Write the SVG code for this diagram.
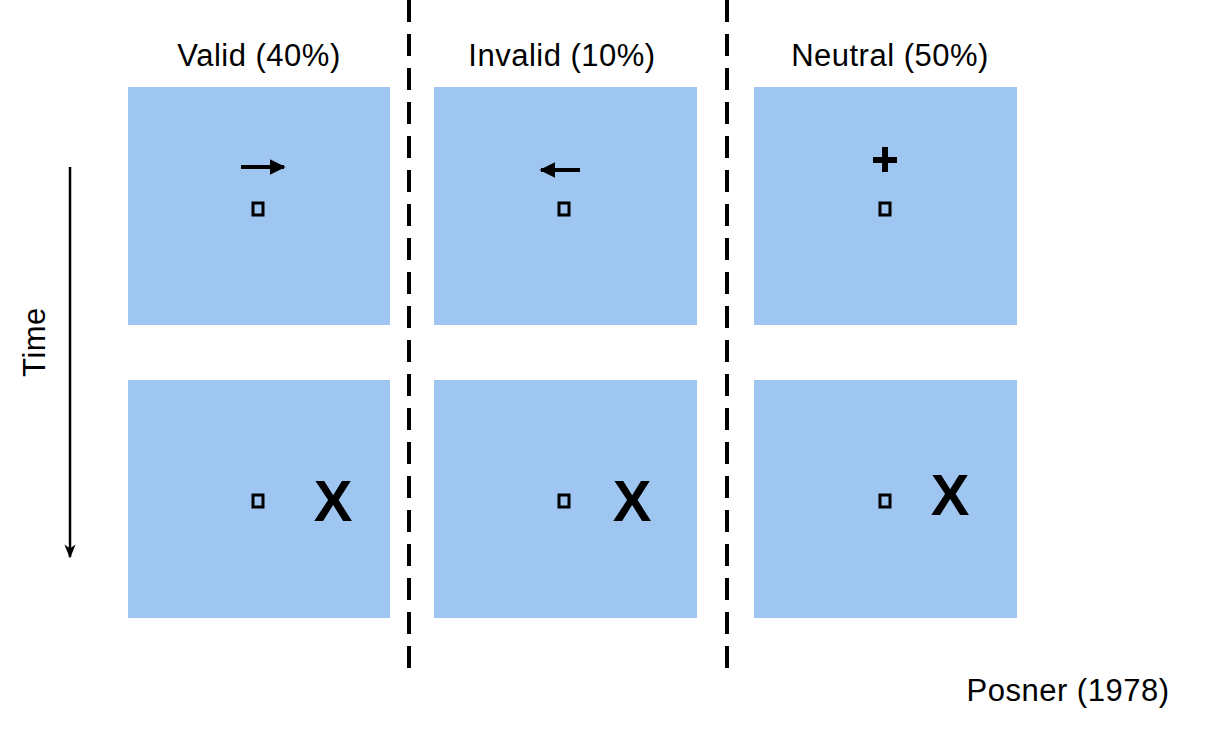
<svg xmlns="http://www.w3.org/2000/svg" width="1216" height="740" viewBox="0 0 1216 740">
<defs>
<style>
.box{fill:#9fc5f1}
.sq{fill:none;stroke:#000;stroke-width:3}
.t{font-family:"Liberation Sans",Arial,sans-serif;font-size:31px;letter-spacing:0.5px;fill:#000}
.x{font-family:"Liberation Sans",Arial,sans-serif;font-size:58px;font-weight:bold;fill:#000}
.dash{stroke:#000;stroke-width:4;stroke-dasharray:22 12}
</style>
<marker id="ah" viewBox="0 0 10 10" refX="9" refY="5" markerWidth="4" markerHeight="4" orient="auto" markerUnits="strokeWidth"><path d="M0,0 L10,5 L0,10 Z" fill="#000"/></marker>
<marker id="ah2" viewBox="0 0 10 10" refX="9" refY="5" markerWidth="14" markerHeight="14" orient="auto" markerUnits="userSpaceOnUse"><path d="M0,1 L10,5 L0,9 L3,5 Z" fill="#000"/></marker>
</defs>
<rect width="1216" height="740" fill="#fff"/>
<g id="connectors">
<line class="dash" x1="409" y1="0" x2="409" y2="672"/>
<line class="dash" x1="727" y1="0" x2="727" y2="676"/>
<line x1="70" y1="167" x2="70" y2="557" stroke="#000" stroke-width="2.5" marker-end="url(#ah2)"/>
</g>
<text class="t" x="259" y="66" text-anchor="middle">Valid (40%)</text>
<text class="t" x="562" y="66" text-anchor="middle">Invalid (10%)</text>
<text class="t" x="890" y="66" text-anchor="middle">Neutral (50%)</text>
<text class="t" transform="translate(45,342) rotate(-90)" text-anchor="middle">Time</text>
<text class="t" x="1068" y="701" text-anchor="middle">Posner (1978)</text>
<g id="valid-cue"><rect class="box" x="128" y="87" width="262" height="238"/>
<line x1="241" y1="167" x2="284" y2="167" stroke="#000" stroke-width="4" marker-end="url(#ah)"/>
<rect class="sq" x="253" y="203" width="10" height="12"/></g>
<g id="invalid-cue"><rect class="box" x="434" y="87" width="263" height="238"/>
<line x1="580" y1="170" x2="541" y2="170" stroke="#000" stroke-width="4" marker-end="url(#ah)"/>
<rect class="sq" x="559" y="203" width="10" height="12"/></g>
<g id="neutral-cue"><rect class="box" x="754" y="87" width="263" height="238"/>
<path d="M885,147 V172 M873,160 H897" stroke="#000" stroke-width="6"/>
<rect class="sq" x="880" y="203" width="10" height="12"/></g>
<g id="valid-target"><rect class="box" x="128" y="380" width="262" height="238"/>
<rect class="sq" x="253" y="495" width="10" height="12"/>
<text class="x" x="333" y="521" text-anchor="middle">X</text></g>
<g id="invalid-target"><rect class="box" x="434" y="380" width="263" height="238"/>
<rect class="sq" x="559" y="495" width="10" height="12"/>
<text class="x" x="632" y="521" text-anchor="middle">X</text></g>
<g id="neutral-target"><rect class="box" x="754" y="380" width="263" height="238"/>
<rect class="sq" x="880" y="495" width="10" height="12"/>
<text class="x" x="950" y="515" text-anchor="middle">X</text></g>
</svg>
